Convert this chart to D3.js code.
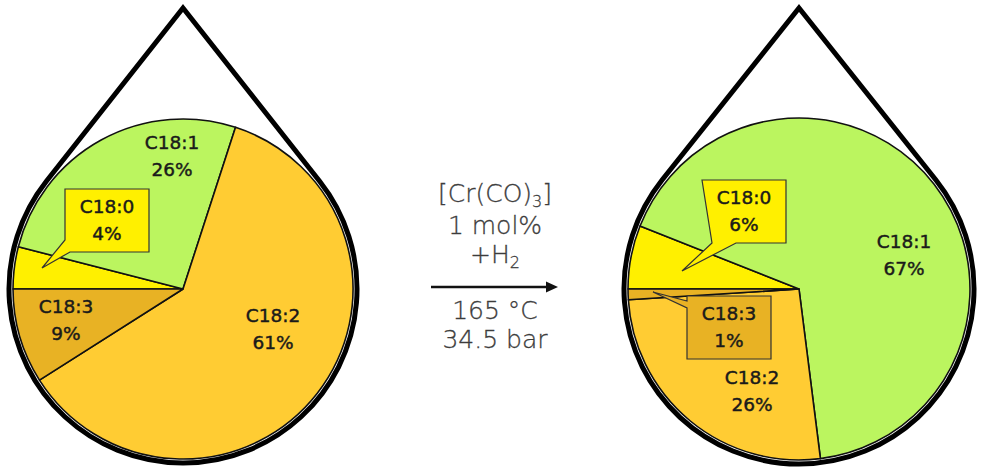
<!DOCTYPE html>
<html>
<head>
<meta charset="utf-8">
<script src="https://cdn.jsdelivr.net/npm/d3@7"></script>
<style>
  body { margin: 0; background: #fff; }
  svg { display: block; }
  .lbl { font-family: "DejaVu Sans", sans-serif; font-size: 18.5px; fill: #1a1a1a; stroke: #1a1a1a; stroke-width: 0.45px; }
  .cond { font-family: "DejaVu Sans", sans-serif; font-weight: 200; font-size: 25px; fill: #3c3c3c; stroke: #3c3c3c; stroke-width: 0.3px; }
</style>
</head>
<body>
<script>
// fatty acid composition before / after hydrogenation (%)
const categories = ["C18:0", "C18:1", "C18:2", "C18:3"];
const beforeValues = [4, 26, 61, 9];
const afterValues = [6, 67, 26, 1];
const conditions = ["1 mol%", "165 °C", "34.5 bar"];

const width = 981,
  height = 470;

const colors = ["#fff000", "#bbf55f", "#ffcc33", "#e8b224"];

// where each panel sits and where its labels were dragged to
const panels = [
  {
    values: beforeValues,
    cx: 183, cy: 289, r: 170, dropR: 174, apexY: 8,
    labels: [[-76, -69], [-11, -133], [90, 40], [-117, 31]],
    callouts: { 0: { tip: [-141, -21], base: "leftBottom" } }
  },
  {
    values: afterValues,
    cx: 799, cy: 289, r: 171, dropR: 175, apexY: 8,
    labels: [[-55, -78], [105, -34], [-47, 102], [-70, 38]],
    callouts: {
      0: { tip: [-117, -18], base: "bottom" },
      3: { tip: [-146, 3], base: "left" }
    }
  }
];

const svg = d3.select("body")
  .append("svg")
  .attr("width", width)
  .attr("height", height);

const pie = d3.pie()
  .sort(null)
  .value(d => d)
  .startAngle(-Math.PI / 2)
  .endAngle(Math.PI * 1.5);

function dropPath(p) {
  const d = p.cy - p.apexY;
  const a = Math.acos(p.dropR / d);
  const path = d3.path();
  path.moveTo(p.cx, p.apexY);
  path.lineTo(p.cx + p.dropR * Math.sin(a), p.cy - p.dropR * Math.cos(a));
  // around the bottom, clockwise on screen
  path.arc(p.cx, p.cy, p.dropR, -Math.PI / 2 + a, Math.PI * 1.5 - a, false);
  path.closePath();
  return path.toString();
}

function calloutPath(x0, y0, w, h, tip, base) {
  const x1 = x0 + w, y1 = y0 + h;
  let pts;
  if (base === "leftBottom") {
    pts = [[x0, y0], [x1, y0], [x1, y1], [x0 + 5, y1], tip, [x0, y1 - 12]];
  } else if (base === "bottom") {
    pts = [[x0, y0], [x1, y0], [x1, y1], [x0 + 34, y1], tip, [x0 + 10, y1]];
  } else {
    pts = [[x0, y0], [x1, y0], [x1, y1], [x0, y1], [x0, y0 + 12], tip, [x0, y0 + 5]];
  }
  return d3.line()(pts) + "Z";
}

panels.forEach(p => {
  const g = svg.append("g");
  const arc = d3.arc().innerRadius(0).outerRadius(p.r);
  const arcs = pie(p.values);

  g.selectAll("path.slice")
    .data(arcs)
    .join("path")
    .attr("class", "slice")
    .attr("transform", `translate(${p.cx},${p.cy})`)
    .attr("d", arc)
    .attr("fill", (d, i) => colors[i])
    .attr("stroke", "#111")
    .attr("stroke-width", 1.6)
    .attr("stroke-linejoin", "round");

  g.append("path")
    .attr("d", dropPath(p))
    .attr("fill", "none")
    .attr("stroke", "#000")
    .attr("stroke-width", 5)
    .attr("stroke-linejoin", "miter");

  arcs.forEach((a, i) => {
    const lx = p.cx + p.labels[i][0],
      ly = p.cy + p.labels[i][1];
    const c = p.callouts[i];
    if (c) {
      const tip = [p.cx + c.tip[0], p.cy + c.tip[1]];
      g.append("path")
        .attr("d", calloutPath(lx - 42, ly - 31, 84, 63, tip, c.base))
        .attr("fill", colors[i])
        .attr("stroke", "#333")
        .attr("stroke-width", 1.2);
    }
    const t = g.append("text")
      .attr("class", "lbl")
      .attr("text-anchor", "middle");
    t.append("tspan").attr("x", lx).attr("y", ly - 7).text(categories[i]);
    t.append("tspan").attr("x", lx).attr("y", ly + 20).text(`${a.data}%`);
  });
});

// reaction conditions in the middle
const mx = 495;
const cond = svg.append("g");

const cat = cond.append("text").attr("class", "cond").attr("text-anchor", "middle")
  .attr("x", mx).attr("y", 202);
cat.append("tspan").text("[Cr(CO)");
cat.append("tspan").attr("font-size", 16).attr("dy", 5).text("3");
cat.append("tspan").attr("dy", -5).text("]");

cond.append("text").attr("class", "cond").attr("text-anchor", "middle")
  .attr("x", mx).attr("y", 234).text(conditions[0]);

const h2 = cond.append("text").attr("class", "cond").attr("text-anchor", "middle")
  .attr("x", mx).attr("y", 263);
h2.append("tspan").text("+H");
h2.append("tspan").attr("font-size", 16).attr("dy", 5).text("2");

cond.append("line")
  .attr("x1", 431).attr("x2", 548)
  .attr("y1", 287).attr("y2", 287)
  .attr("stroke", "#111")
  .attr("stroke-width", 2.5);
cond.append("path")
  .attr("d", "M558,287L546,281.5L546,292.5Z")
  .attr("fill", "#111");

cond.append("text").attr("class", "cond").attr("text-anchor", "middle")
  .attr("x", mx).attr("y", 319).text(conditions[1]);
cond.append("text").attr("class", "cond").attr("text-anchor", "middle")
  .attr("x", mx).attr("y", 348).text(conditions[2]);
</script>
</body>
</html>
